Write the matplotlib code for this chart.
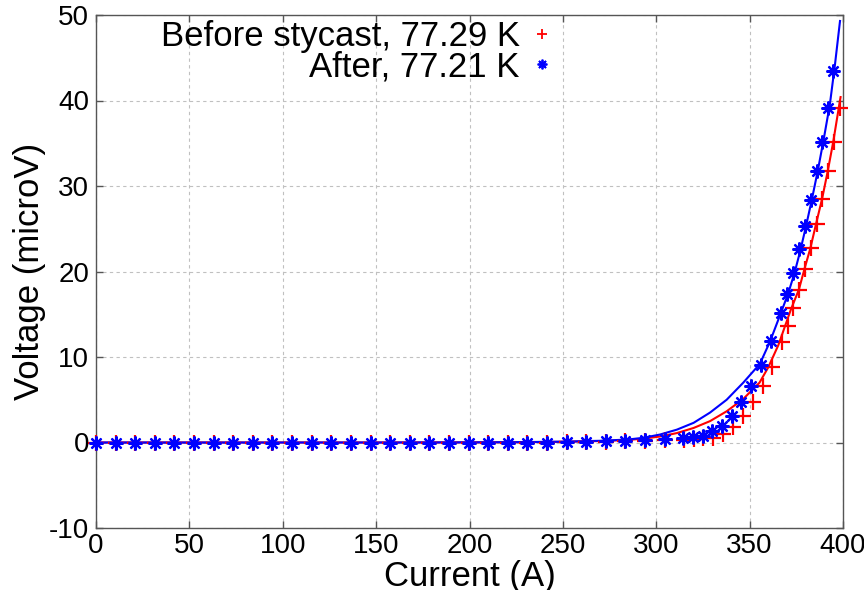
import matplotlib
matplotlib.use("Agg")
import matplotlib.pyplot as plt
from matplotlib.lines import Line2D

plt.rcParams['font.family'] = ['Liberation Sans', 'DejaVu Sans']
plt.rcParams['axes.unicode_minus'] = False

# measured points, before stycast (red +)
before_current = [0, 10.5, 21, 31.5, 42, 52.5, 63, 73.5, 84, 94.5, 105, 115.5, 126, 136.5, 147,
                  157.5, 168, 178.5, 189, 199.5, 210, 220.5, 231, 241.5, 252, 262.5, 273, 283.5, 294, 304.5,
                  314.6, 320.0, 325.2, 330.6, 335.9, 341.2, 346.5, 351.8, 356.9, 361.8, 367.2, 370.4,
                  373.4, 376.5, 379.6, 382.8, 385.9, 388.9, 392.0, 395.2, 398.4]
before_voltage = [0, 0, 0, 0, 0, 0, 0, 0, 0, 0, 0, 0, 0, 0, 0,
                  0, 0, 0, 0, 0, 0, 0, 0, 0, 0.05, 0.05, 0.1, 0.15, 0.2, 0.3,
                  0.35, 0.43, 0.5, 0.55, 0.95, 1.85, 3.05, 4.7, 6.6, 8.8, 11.7, 13.6,
                  15.7, 17.85, 20.35, 22.75, 25.5, 28.5, 31.7, 35.2, 39.1]

# measured points, after stycast (blue *)
after_current = [0, 10.5, 21, 31.5, 42, 52.5, 63, 73.5, 84, 94.5, 105, 115.5, 126, 136.5, 147,
                 157.5, 168, 178.5, 189, 199.5, 210, 220.5, 231, 241.5, 252, 262.5, 273, 283.5, 294, 304.5,
                 314.3, 319.5, 324.8, 330.1, 335.2, 340.5, 345.5, 350.7, 356.3, 361.3, 366.8, 369.8,
                 373.1, 376.5, 379.5, 382.6, 386.0, 388.7, 392.1, 394.8]
after_voltage = [0, 0, 0, 0, 0, 0, 0, 0, 0, 0, 0, 0, 0, 0, 0,
                 0, 0, 0, 0, 0, 0, 0, 0, 0, 0.1, 0.1, 0.15, 0.2, 0.25, 0.4,
                 0.55, 0.65, 0.75, 1.3, 1.95, 3.07, 4.77, 6.65, 9.05, 11.85, 15.2, 17.4,
                 19.85, 22.6, 25.3, 28.4, 31.7, 35.2, 39.1, 43.4]

# fitted curves
before_fit_current = [0, 50, 100, 150, 200, 230, 250, 270, 285, 293, 302, 311, 320, 328.8, 337.7,
                      346.6, 355.3, 360.0, 365.4, 372.0, 376.4, 379.5, 382.5, 385.5, 388.8, 391.8,
                      394.8, 397.7, 398.7]
before_fit_voltage = [0, 0, 0, 0, 0.02, 0.04, 0.08, 0.17, 0.3, 0.45, 0.7, 1.1, 1.7, 2.5, 3.65,
                      5.1, 7.0, 8.8, 11.4, 15.5, 17.9, 20.4, 22.7, 25.5, 28.5, 31.7,
                      35.2, 39.1, 40.4]

after_fit_current = [0, 50, 100, 150, 200, 230, 250, 270, 285, 293, 302, 311, 320, 328.8, 337.7,
                     346.6, 355.5, 360.9, 366.3, 370.6, 374.0, 377.1, 380.2, 383.4, 386.6, 389.7,
                     393.0, 395.7, 398.4]
after_fit_voltage = [0, 0, 0, 0, 0.02, 0.05, 0.1, 0.2, 0.35, 0.55, 0.93, 1.5, 2.3, 3.5, 5.0,
                     7.0, 9.2, 11.8, 14.9, 17.4, 19.8, 22.4, 25.3, 28.5, 31.9, 35.5,
                     39.6, 44.2, 49.3]

x_ticks = [0, 50, 100, 150, 200, 250, 300, 350, 400]
y_ticks = [-10, 0, 10, 20, 30, 40, 50]

fig = plt.figure(figsize=(8.64, 5.90), dpi=100)
ax = fig.add_axes([96 / 864, 62 / 590, 747 / 864, 513 / 590])

ax.plot(before_fit_current, before_fit_voltage, color='#ff0000', lw=1.5, zorder=3)
ax.plot(after_fit_current, after_fit_voltage, color='#0000ff', lw=1.5, zorder=3)
ax.plot(before_current, before_voltage, ls='none', marker='+', ms=11, mew=1.6,
        color='#ff0000', zorder=4, clip_on=False)
ax.plot(after_current, after_voltage, ls='none', marker=(8, 2, 0), ms=10, mew=1.6,
        color='#0000ff', zorder=5, clip_on=False)

ax.set_xlim(0, 400)
ax.set_ylim(-10, 50)
ax.set_xticks(x_ticks)
ax.set_yticks(y_ticks)
ax.grid(True, color='#c0c0c0', ls=(0, (3, 3)), lw=0.8)
ax.tick_params(direction='in', top=True, right=True, length=5, width=1,
               color='#555555', labelsize=20)
ax.tick_params(axis='x', pad=3.5)
ax.tick_params(axis='y', pad=5)
for s in ax.spines.values():
    s.set_color('#555555')
    s.set_linewidth(1.0)

ax.set_xlabel('Current (A)', fontsize=25, labelpad=1)
ax.set_ylabel('Voltage (microV)', fontsize=25, labelpad=2)

# legend: text first, small markers on the right, no frame
handles = [Line2D([], [], ls='none', marker='+', ms=7, mew=1.3, color='#ff0000'),
           Line2D([], [], ls='none', marker=(8, 2, 0), ms=7, mew=1.3, color='#0000ff')]
ax.legend(handles, ['Before stycast, 77.29 K', 'After, 77.21 K'], markerfirst=False,
          frameon=False, fontsize=25, loc='upper right', bbox_to_anchor=(0.616, 0.99),
          borderpad=0, borderaxespad=0, handlelength=0.8, handletextpad=0.25,
          labelspacing=-0.08)

fig.savefig('out.png', dpi=100)
